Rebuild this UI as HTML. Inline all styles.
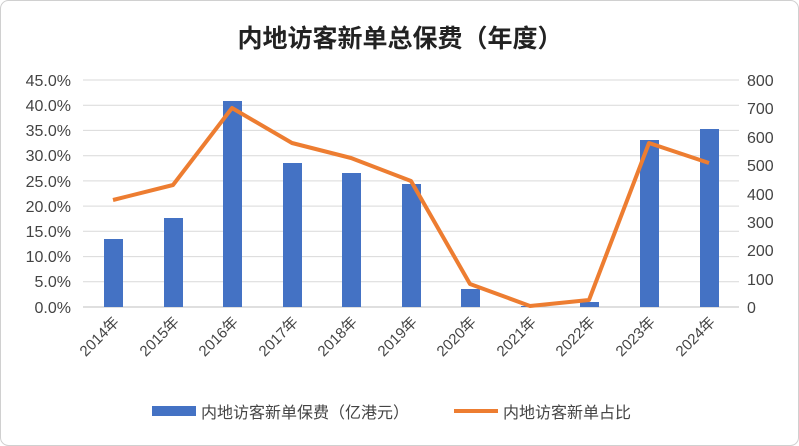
<!DOCTYPE html>
<html><head><meta charset="utf-8"><style>
body{margin:0;background:#fff}
svg{display:block;font-family:"Liberation Sans","Noto Sans CJK SC",sans-serif}
</style></head><body>
<svg width="799" height="446" viewBox="0 0 799 446">
<rect x="0.5" y="0.5" width="798" height="445" rx="8" fill="#fff" stroke="#d0d0d0"/>
<text x="400" y="47" text-anchor="middle" font-size="25" font-weight="bold" fill="#222" font-family="'Noto Sans CJK SC',sans-serif">内地访客新单总保费（年度）</text>
<g stroke="#d9d9d9" stroke-width="1">
<line x1="83" x2="739" y1="80" y2="80"/><line x1="83" x2="739" y1="105.2" y2="105.2"/><line x1="83" x2="739" y1="130.4" y2="130.4"/><line x1="83" x2="739" y1="155.7" y2="155.7"/><line x1="83" x2="739" y1="180.9" y2="180.9"/><line x1="83" x2="739" y1="206.1" y2="206.1"/><line x1="83" x2="739" y1="231.3" y2="231.3"/><line x1="83" x2="739" y1="256.6" y2="256.6"/><line x1="83" x2="739" y1="281.8" y2="281.8"/>
</g>
<line x1="83" x2="739" y1="307" y2="307" stroke="#bfbfbf"/>
<g font-size="16" fill="#444" text-anchor="end">
<text x="71" y="86">45.0%</text><text x="71" y="111">40.0%</text><text x="71" y="136">35.0%</text><text x="71" y="161">30.0%</text><text x="71" y="187">25.0%</text><text x="71" y="212">20.0%</text><text x="71" y="237">15.0%</text><text x="71" y="262">10.0%</text><text x="71" y="287">5.0%</text><text x="71" y="313">0.0%</text>
</g>
<g font-size="16" fill="#444">
<text x="747" y="86">800</text><text x="747" y="114">700</text><text x="747" y="143">600</text><text x="747" y="171">500</text><text x="747" y="200">400</text><text x="747" y="228">300</text><text x="747" y="256">200</text><text x="747" y="285">100</text><text x="747" y="313">0</text>
</g>
<g fill="#4472c4">
<rect x="104" y="239" width="19" height="68"/><rect x="164" y="218" width="19" height="89"/><rect x="223" y="101" width="19" height="206"/><rect x="283" y="163" width="19" height="144"/><rect x="342" y="173" width="19" height="134"/><rect x="402" y="184" width="19" height="123"/><rect x="461" y="289" width="19" height="18"/><rect x="521" y="306" width="19" height="1"/><rect x="580" y="302" width="19" height="5"/><rect x="640" y="140" width="19" height="167"/><rect x="700" y="129" width="19" height="178"/>
</g>
<polyline fill="none" stroke="#ed7d31" stroke-width="4" stroke-linejoin="round" points="113,200 173,185 232,108 292,143 351,158 411,181 470,284 530,306 589,300 649,143 709,163"/>
<g font-size="15" fill="#444" text-anchor="end">
<text transform="translate(120,323) rotate(-45)">2014年</text><text transform="translate(180,323) rotate(-45)">2015年</text><text transform="translate(239,323) rotate(-45)">2016年</text><text transform="translate(299,323) rotate(-45)">2017年</text><text transform="translate(358,323) rotate(-45)">2018年</text><text transform="translate(418,323) rotate(-45)">2019年</text><text transform="translate(477,323) rotate(-45)">2020年</text><text transform="translate(537,323) rotate(-45)">2021年</text><text transform="translate(596,323) rotate(-45)">2022年</text><text transform="translate(656,323) rotate(-45)">2023年</text><text transform="translate(716,323) rotate(-45)">2024年</text>
</g>
<rect x="152" y="406" width="44" height="10" fill="#4472c4"/>
<text x="201" y="418" font-size="16" fill="#444">内地访客新单保费（亿港元）</text>
<line x1="454" x2="498" y1="411" y2="411" stroke="#ed7d31" stroke-width="4"/>
<text x="503" y="418" font-size="16" fill="#444">内地访客新单占比</text>
</svg>
</body></html>
